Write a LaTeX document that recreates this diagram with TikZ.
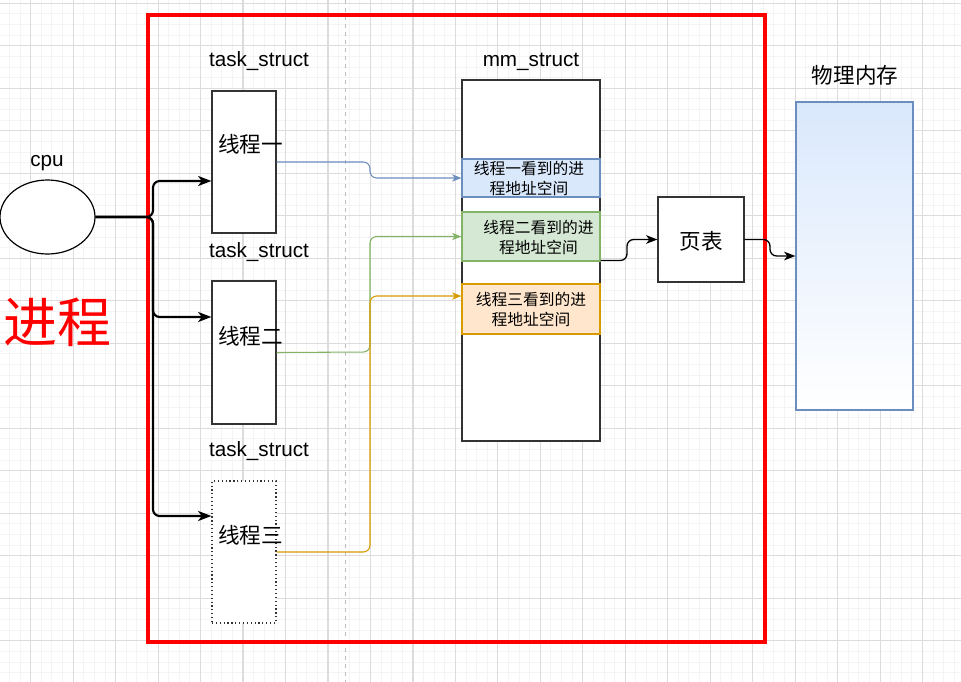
\documentclass[tikz,border=0pt]{standalone}
\usepackage{fontspec}
\setmainfont{Liberation Sans}
\newfontfamily\cjk{Noto Sans CJK SC}
\usetikzlibrary{arrows.meta,calc,shapes.geometric}
\definecolor{gridmajor}{HTML}{DCDCDC}
\definecolor{gridminor}{HTML}{F4F4F4}
\definecolor{bluefill}{HTML}{DAE8FC}
\definecolor{bluedraw}{HTML}{6C8EBF}
\definecolor{greenfill}{HTML}{D5E8D4}
\definecolor{greendraw}{HTML}{82B366}
\definecolor{orangefill}{HTML}{FFE6CC}
\definecolor{orangedraw}{HTML}{D79B00}
\definecolor{boxdraw}{HTML}{333333}
\tikzset{
  minorline/.style={gridminor, line width=0.75pt},
  majorline/.style={gridmajor, line width=0.9pt},
  plainbox/.style={draw=boxdraw, fill=white, line width=0.9pt, inner sep=0pt},
  lbl/.style={font=\fontsize{15.5}{18}\selectfont, text=black, inner sep=0pt},
  cjklbl/.style={font=\cjk\fontsize{16.2}{18}\selectfont, text=black, inner sep=0pt},
  sublbl/.style={font=\cjk\fontsize{11.8}{15}\selectfont, text=black, inner sep=0pt, align=center},
  cpuarrow/.style={line width=1.6pt, rounded corners=5pt, -{Stealth[length=10pt,width=7.5pt,inset=2.8pt]}},
  thinarrow/.style={line width=0.8pt, rounded corners=5pt, -{Stealth[length=7pt,width=5.5pt,inset=2pt]}},
  blackarrow/.style={line width=1pt, rounded corners=5pt, -{Stealth[length=8.5pt,width=6.5pt,inset=2.4pt]}},
}
\begin{document}
\begin{tikzpicture}[x=0.75pt,y=-0.75pt]
\useasboundingbox (0,0) rectangle (961,682);
\fill[white] (0,0) rectangle (961,682);
% grid
\foreach \i in {0,...,89} {\draw[minorline] ({9.465+10.6175*\i},0) -- ({9.465+10.6175*\i},682);}
\foreach \i in {0,...,63} {\draw[minorline] (0,{3.3+10.625*\i}) -- (961,{3.3+10.625*\i});}
\foreach \i in {0,...,21} {\draw[majorline] ({30.7+42.47*\i},0) -- ({30.7+42.47*\i},682);}
\foreach \i in {0,...,15} {\draw[majorline] (0,{3.3+42.5*\i}) -- (961,{3.3+42.5*\i});}
% page break line
\draw[color={rgb,255:red,190;green,190;blue,190}, line width=0.75pt, dash pattern=on 3pt off 3pt] (345,0) -- (345,682);
% red process frame
\draw[red, line width=2.3pt] (148,15) rectangle (765,642);
\node[font=\cjk\fontsize{40.5}{44}\selectfont, text=red, inner sep=0pt] (proc) at (57.5,322) {进程};
% cpu
\node[lbl] (cpulbl) at (47,163) {cpu};
\node[draw=black, fill=white, line width=0.9pt, ellipse, minimum width=71.25pt, minimum height=55.5pt, inner sep=0pt] (cpu) at (47.5,217) {};
% thread boxes
\node[lbl] (ts1) at (259,61.5) {task\_struct};
\node[lbl] (ts2) at (259,252.5) {task\_struct};
\node[lbl] (ts3) at (259,451.5) {task\_struct};
\node[plainbox, minimum width=48pt, minimum height=106.5pt] (t1) at (244,162) {};
\node[plainbox, minimum width=48pt, minimum height=107.25pt] (t2) at (244,352.5) {};
\node[draw=boxdraw, fill=white, line width=0.9pt, dotted, inner sep=0pt, minimum width=48pt, minimum height=106.5pt] (t3) at (244,552) {};
\node[cjklbl] (t1lbl) at (250.5,144) {线程一};
\node[cjklbl] (t2lbl) at (250.5,336) {线程二};
\node[cjklbl] (t3lbl) at (250.5,535) {线程三};
% mm_struct
\node[lbl] (mmlbl) at (531,61.5) {mm\_struct};
\node[plainbox, minimum width=103.5pt, minimum height=270.75pt] (mm) at (531,260.5) {};
\node[draw=bluedraw, fill=bluefill, line width=0.9pt, inner sep=0pt, minimum width=103.5pt, minimum height=28.5pt] (b1) at (531,178) {};
\node[draw=greendraw, fill=greenfill, line width=0.9pt, inner sep=0pt, minimum width=103.5pt, minimum height=36.75pt] (g1) at (531,236.5) {};
\node[draw=orangedraw, fill=orangefill, line width=0.9pt, inner sep=0pt, minimum width=103.5pt, minimum height=37.5pt] (o1) at (531,309) {};
\node[sublbl] (b1lbl) at (529,178) {线程一看到的进\\程地址空间};
\node[sublbl] (g1lbl) at (538.5,237) {线程二看到的进\\程地址空间};
\node[sublbl] (o1lbl) at (531,309) {线程三看到的进\\程地址空间};
% page table
\node[plainbox, minimum width=64.5pt, minimum height=63.75pt] (pg) at (701,239.5) {};
\node[cjklbl] (pglbl) at (701,241) {页表};
% physical memory
\node[cjklbl] (phlbl) at (855,75) {物理内存};
\node[draw=bluedraw, line width=0.9pt, top color=bluefill, bottom color=white, inner sep=0pt, minimum width=87.75pt, minimum height=231pt] (ph) at (854.5,256) {};
% cpu connectors
\draw[cpuarrow] (cpu.east) -- (153,217) -- (153,181) -- (t1.west |- 0,181);
\draw[cpuarrow] (cpu.east) -- (153,217) -- (153,317) -- (t2.west |- 0,317);
\draw[cpuarrow] (cpu.east) -- (153,217) -- (153,516) -- (t3.west |- 0,516);
% thread to address space
\draw[thinarrow, bluedraw] (t1.east) -- (370,162) -- (370,178) -- (b1.west);
\draw[thinarrow, greendraw] (t2.east) -- (370,352) -- (370,236.5) -- (g1.west);
\draw[thinarrow, orangedraw] (t3.east) -- (370,552) -- (370,296) -- (o1.west |- 0,296);
% mm to page table to memory
\draw[blackarrow] (mm.east) -- (627,260.5) -- (627,239.5) -- (pg.west);
\draw[blackarrow] (pg.east) -- (770,239.5) -- (770,256) -- (ph.west);
\end{tikzpicture}
\end{document}
